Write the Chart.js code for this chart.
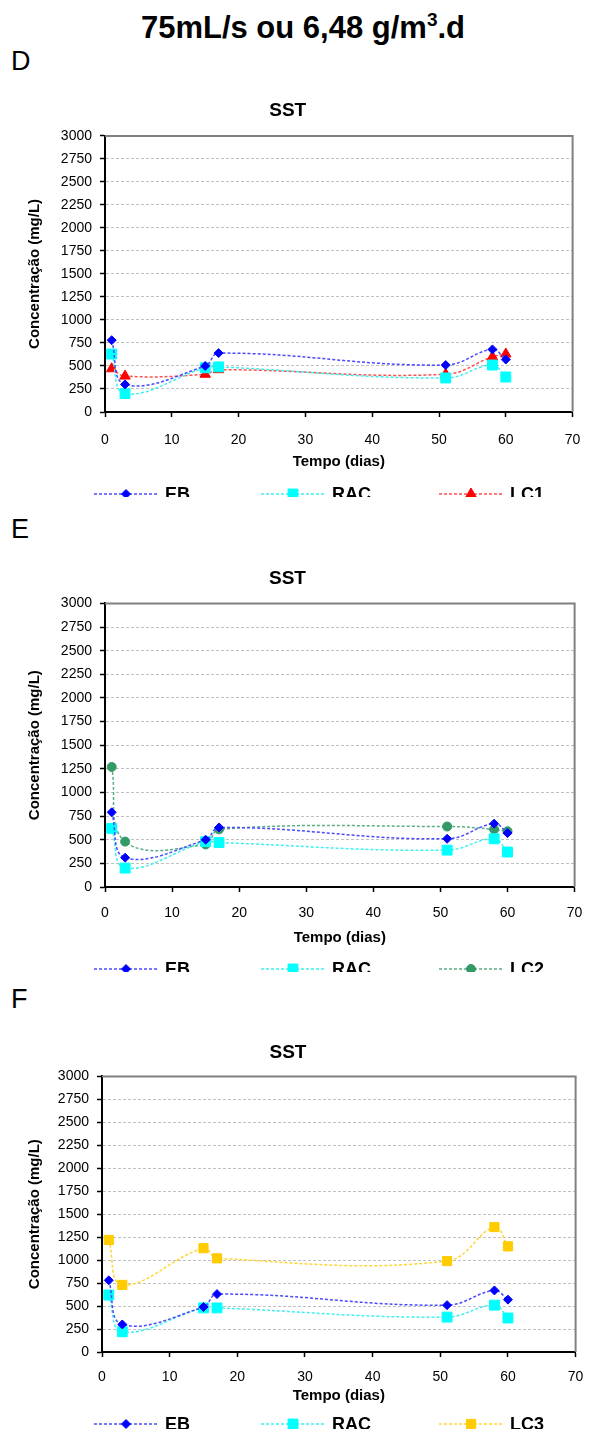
<!DOCTYPE html>
<html>
<head>
<meta charset="utf-8">
<script src="https://cdn.jsdelivr.net/npm/chart.js@4.4.0/dist/chart.umd.min.js"></script>
<style>
body { margin: 0; background: #fff; width: 595px; height: 1429px; position: relative; overflow: hidden; font-family: "Liberation Sans", Arial, sans-serif; }
.box { position: absolute; left: 0; width: 595px; overflow: hidden; }
.box canvas { position: absolute; left: 0; top: 0; }
#head { position: absolute; top: 10px; left: 0; width: 606px; text-align: center; font-weight: bold; font-size: 31px; line-height: 36px; }
#head sup { font-size: 19px; vertical-align: 12px; line-height: 0; }
.lt { position: absolute; left: 11px; font-size: 27px; line-height: 30px; }
</style>
</head>
<body>
<div id="head">75mL/s ou 6,48 g/m<sup>3</sup>.d</div>
<div class="lt" style="top:46px">D</div>
<div class="lt" style="top:514px">E</div>
<div class="lt" style="top:984px">F</div>
<div class="box" id="boxD"><canvas id="chartD"></canvas></div>
<div class="box" id="boxE"><canvas id="chartE"></canvas></div>
<div class="box" id="boxF"><canvas id="chartF"></canvas></div>
<script>
// dias de coleta
var dias = [1, 3, 15, 17, 51, 58, 60];
var xTicks = [0, 10, 20, 30, 40, 50, 60, 70];
var yTicks = [0, 250, 500, 750, 1000, 1250, 1500, 1750, 2000, 2250, 2500, 2750, 3000];

// grafico D
var ebD = [780, 300, 500, 640, 510, 680, 570];
var racD = [630, 200, 480, 490, 370, 510, 380];
var lc1 = [470, 390, 410, 460, 410, 600, 630];
// grafico E
var ebE = [790, 310, 500, 630, 510, 670, 570];
var racE = [620, 200, 480, 470, 390, 510, 370];
var lc2 = [1270, 480, 450, 610, 640, 610, 590];
// grafico F
var ebF = [780, 300, 490, 630, 510, 670, 570];
var racF = [620, 220, 480, 480, 380, 510, 370];
var lc3 = [1220, 730, 1130, 1020, 990, 1360, 1150];

var tickFont = { family: "'Liberation Sans Narrow', 'Liberation Sans', Arial, sans-serif", size: 14 };
var boldFont = { family: "'Liberation Sans', Arial, sans-serif", size: 15, weight: 'bold' };
var sstFont = { family: "'Liberation Sans', Arial, sans-serif", size: 19, weight: 'bold' };

function pontos(valores) {
    return valores.map(function (v, i) { return { x: dias[i], y: v }; });
}

function serie(label, valores, cor, linha, estilo, raio) {
    return {
        label: label,
        data: pontos(valores),
        borderColor: linha,
        backgroundColor: cor,
        pointBackgroundColor: cor,
        pointBorderColor: cor,
        pointStyle: estilo,
        pointRadius: raio,
        pointBorderWidth: 1,
        borderWidth: 1.5,
        borderDash: [3, 2],
        tension: 0.4,
        fill: false
    };
}

// borda cinza do grafico (topo e direita)
var bordaPlugin = {
    id: 'borda',
    beforeDatasetsDraw: function (chart) {
        var a = chart.chartArea, ctx = chart.ctx;
        ctx.save();
        ctx.strokeStyle = '#808080';
        ctx.lineWidth = 2;
        ctx.beginPath();
        ctx.moveTo(a.left, a.top);
        ctx.lineTo(a.right, a.top);
        ctx.lineTo(a.right, a.bottom);
        ctx.stroke();
        ctx.restore();
    }
};

// legenda estilo excel: linha + marcador + texto
var legendaPlugin = {
    id: 'legenda',
    afterDraw: function (chart) {
        var o = chart.options.plugins.legenda;
        var ctx = chart.ctx;
        var y = chart.chartArea.bottom + o.offset;
        chart.data.datasets.forEach(function (ds, i) {
            var x0 = o.inicio[i];
            ctx.save();
            ctx.strokeStyle = ds.borderColor;
            ctx.lineWidth = ds.borderWidth;
            ctx.setLineDash(ds.borderDash);
            ctx.beginPath();
            ctx.moveTo(x0, y);
            ctx.lineTo(x0 + 64, y);
            ctx.stroke();
            ctx.setLineDash([]);
            ctx.fillStyle = ds.pointBackgroundColor;
            ctx.strokeStyle = ds.pointBorderColor;
            ctx.lineWidth = 1;
            Chart.helpers.drawPoint(ctx, { pointStyle: ds.pointStyle, radius: ds.pointRadius, borderWidth: 1, rotation: 0 }, x0 + 32, y);
            ctx.fillStyle = '#000';
            ctx.font = 'bold 18px "Liberation Sans", Arial, sans-serif';
            ctx.textBaseline = 'middle';
            ctx.fillText(ds.label, x0 + 71, y + 1);
            ctx.restore();
        });
    }
};

function criarGrafico(id, boxId, datasets, lay) {
    var T = lay.sst - 6 - 11.4;
    var xh = 70;
    var B = 40;
    var H = Math.round(lay.bottom - T + xh + B);
    var box = document.getElementById(boxId);
    box.style.top = T + 'px';
    box.style.height = (lay.clip - T) + 'px';
    var canvas = document.getElementById(id);
    canvas.width = 595;
    canvas.height = H;
    canvas.style.width = '595px';
    canvas.style.height = H + 'px';

    return new Chart(canvas.getContext('2d'), {
        type: 'line',
        data: { datasets: datasets },
        plugins: [bordaPlugin, legendaPlugin],
        options: {
            responsive: false,
            animation: false,
            devicePixelRatio: 1,
            layout: { padding: { left: 0, right: 595 - lay.right, top: 0, bottom: B } },
            plugins: {
                legend: { display: false },
                tooltip: { enabled: false },
                title: {
                    display: true,
                    text: 'SST',
                    color: '#000',
                    font: sstFont,
                    padding: { top: 6, bottom: lay.top - T - 6 - 22.8 }
                },
                legenda: { offset: lay.legend - lay.bottom, inicio: [94, 261, 439] }
            },
            scales: {
                x: {
                    type: 'linear',
                    min: 0,
                    max: 70,
                    afterBuildTicks: function (s) { s.ticks = xTicks.map(function (v) { return { value: v }; }); },
                    afterFit: function (s) { s.height = xh; },
                    ticks: { color: '#000', font: tickFont, padding: lay.tick - 8.4 - lay.bottom - 5, maxRotation: 0,
                        callback: function (v) { return String(v); } },
                    grid: { drawOnChartArea: false, drawTicks: true, tickLength: 5, tickColor: '#000', tickWidth: 1.5 },
                    border: { color: '#000', width: 2 },
                    title: {
                        display: true,
                        text: 'Tempo (dias)',
                        color: '#000',
                        font: boldFont,
                        padding: { top: 0, bottom: xh - (lay.titulo - lay.bottom) - 9 }
                    }
                },
                y: {
                    min: 0,
                    max: 3000,
                    afterBuildTicks: function (s) { s.ticks = yTicks.map(function (v) { return { value: v }; }); },
                    afterFit: function (s) { s.width = lay.left; },
                    ticks: { color: '#000', font: tickFont, padding: 8, callback: function (v) { return String(v); } },
                    grid: { color: '#c0c0c0', lineWidth: 1, tickLength: 5, tickColor: '#000', tickWidth: 1.5, tickBorderDash: [] },
                    border: { color: '#000', width: 2, dash: [3, 2] },
                    title: {
                        display: true,
                        text: 'Concentração (mg/L)',
                        color: '#000',
                        font: boldFont,
                        padding: { top: 26, bottom: 0 }
                    }
                }
            }
        }
    });
}

criarGrafico('chartD', 'boxD', [
    serie('EB', ebD, '#0000ff', '#4a4aff', 'rectRot', 4.5),
    serie('RAC', racD, '#00ffff', '#3ff0f0', 'rect', 7),
    serie('LC1', lc1, '#ff0000', '#ff5050', 'triangle', 6)
], { sst: 110, top: 135.5, bottom: 412, left: 105, right: 575.5, tick: 440, titulo: 462, legend: 494, clip: 497 });

criarGrafico('chartE', 'boxE', [
    serie('EB', ebE, '#0000ff', '#4a4aff', 'rectRot', 4.5),
    serie('RAC', racE, '#00ffff', '#3ff0f0', 'rect', 7),
    serie('LC2', lc2, '#339966', '#5aae84', 'circle', 4.5)
], { sst: 578, top: 603, bottom: 887, left: 105, right: 575, tick: 913, titulo: 938, legend: 969, clip: 972 });

criarGrafico('chartF', 'boxF', [
    serie('EB', ebF, '#0000ff', '#4a4aff', 'rectRot', 4.5),
    serie('RAC', racF, '#00ffff', '#3ff0f0', 'rect', 7),
    serie('LC3', lc3, '#ffcc00', '#ffd633', 'rect', 6.5)
], { sst: 1052, top: 1076, bottom: 1352, left: 102, right: 576, tick: 1377, titulo: 1396, legend: 1424, clip: 1429 });
</script>
</body>
</html>
